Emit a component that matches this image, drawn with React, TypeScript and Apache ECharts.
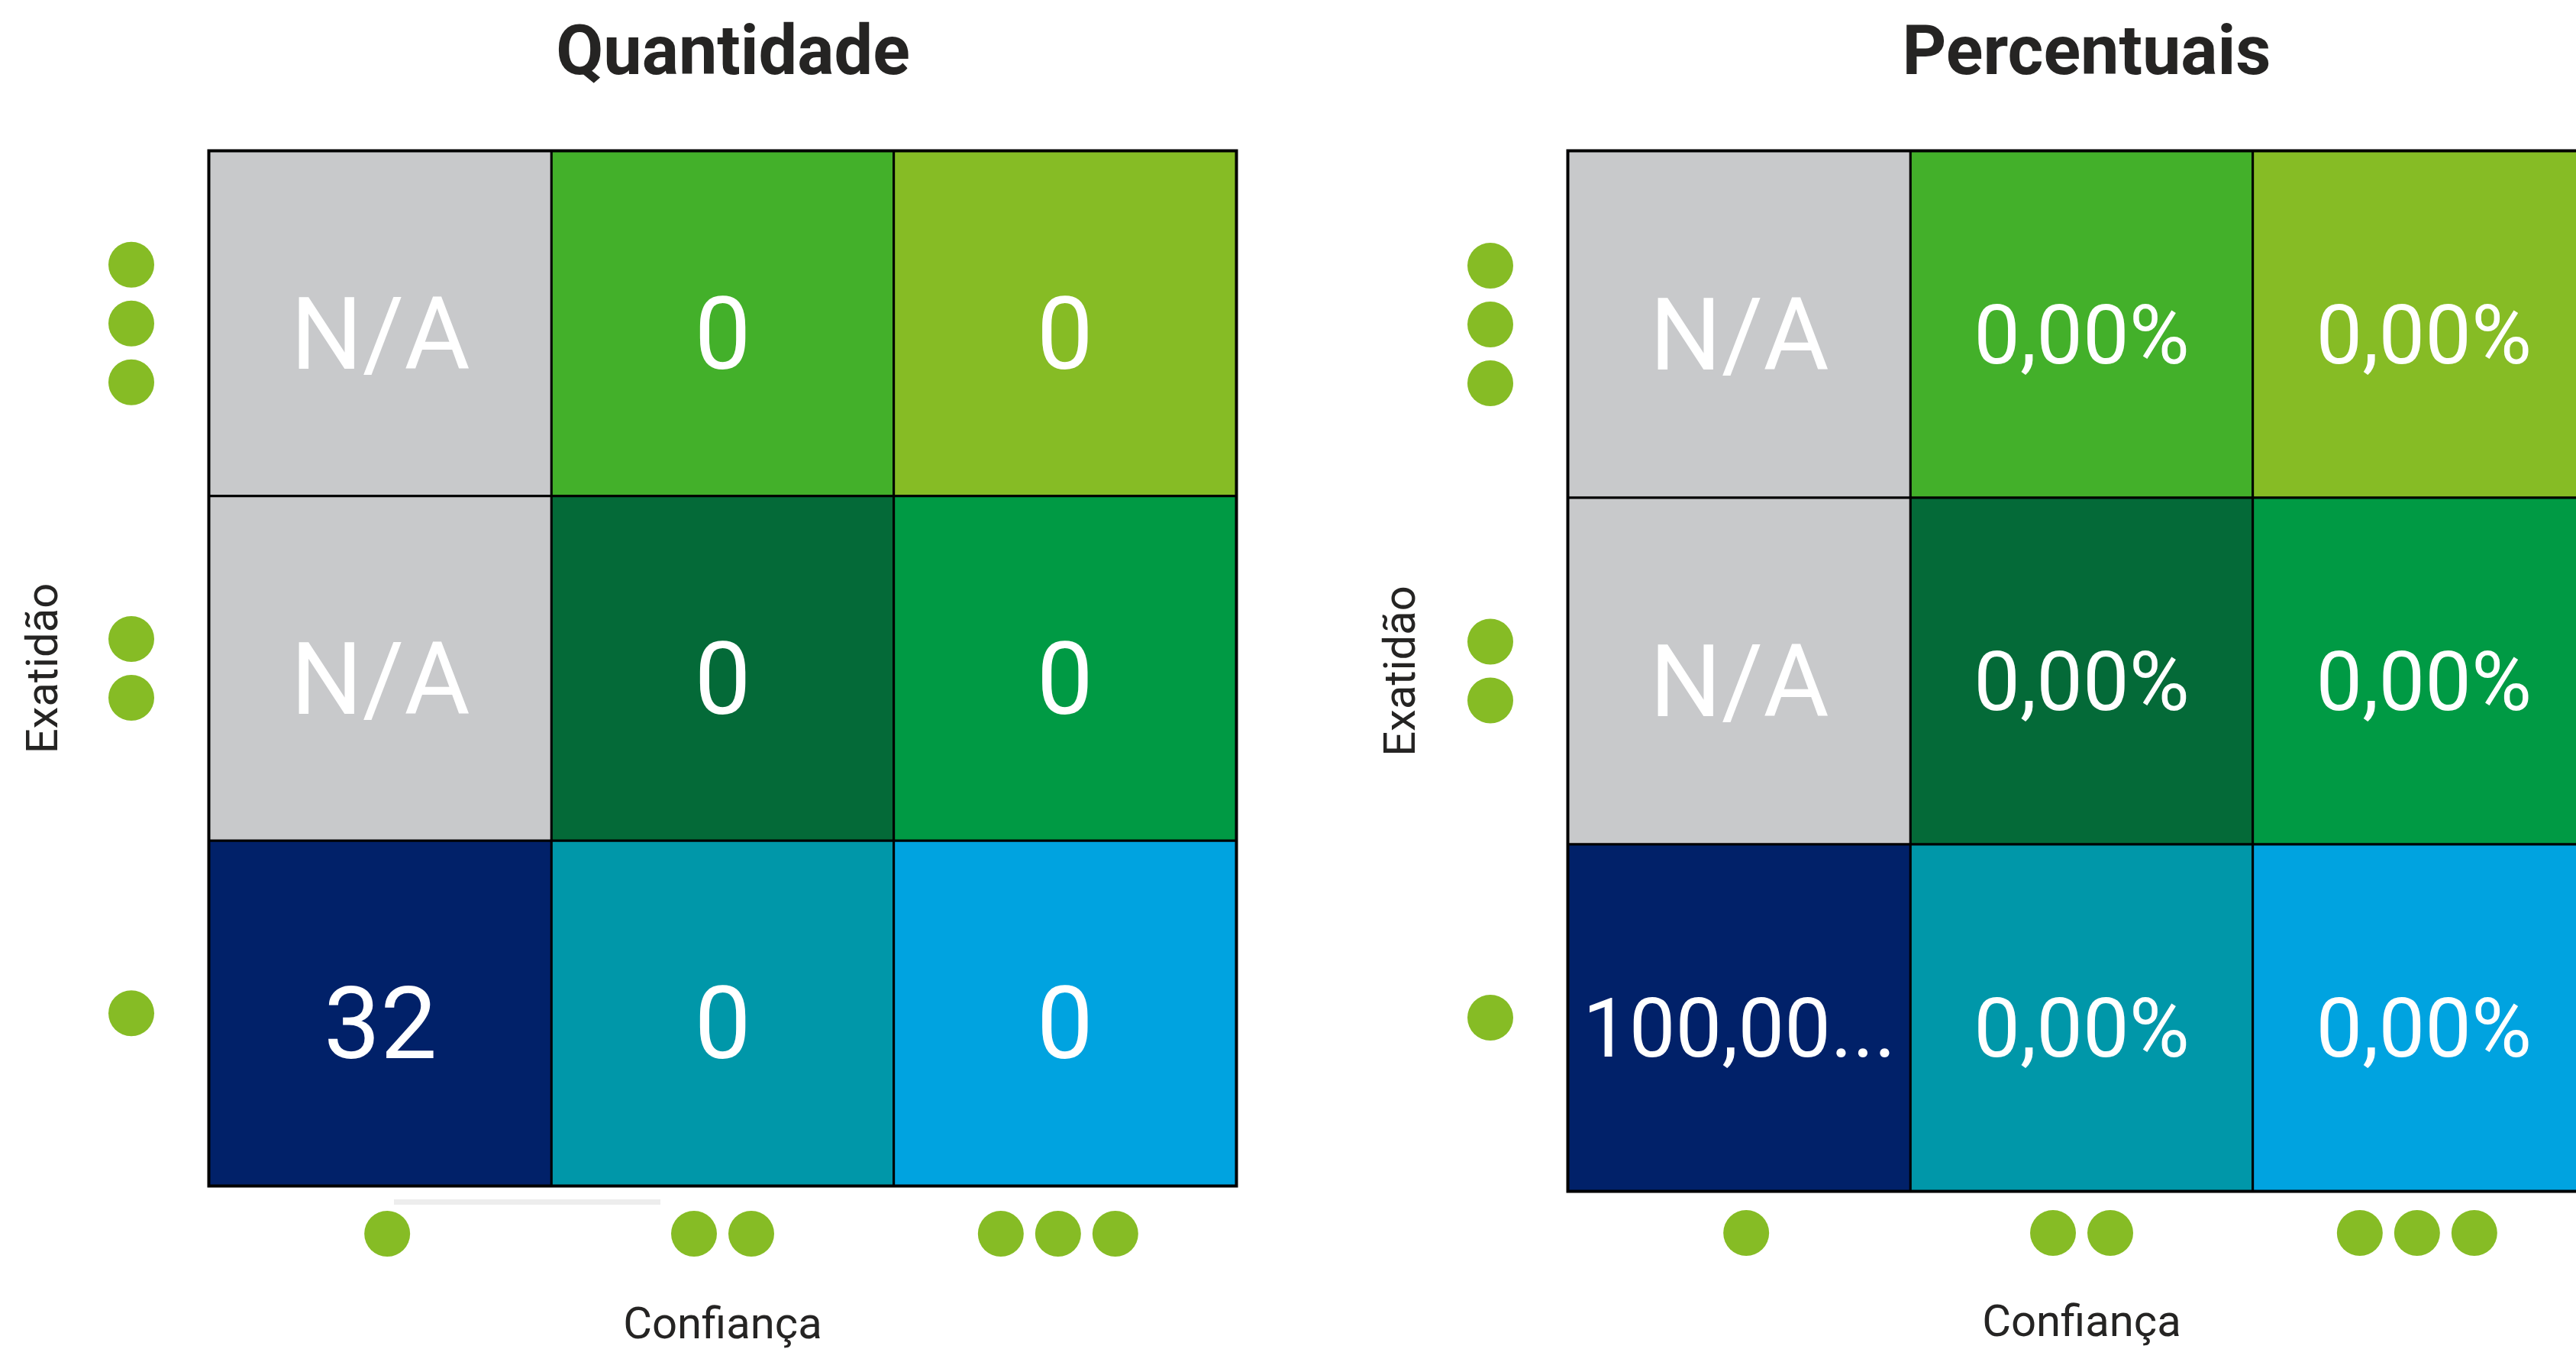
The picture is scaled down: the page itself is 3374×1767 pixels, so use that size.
import React, { useEffect, useRef } from 'react';
import * as echarts from 'echarts';

// Categories: number of dots shown on each axis
const confiancaLevels = ['1', '2', '3']; // x axis, left → right
const exatidaoLevels = ['1', '2', '3']; // y axis, bottom → top

// Rows from Exatidão 3 (top) to Exatidão 1 (bottom); columns Confiança 1..3; null = N/A
const quantidadeRows: (number | null)[][] = [
  [null, 0, 0],
  [null, 0, 0],
  [32, 0, 0],
];
const percentuaisRows: (number | null)[][] = [
  [null, 0, 0],
  [null, 0, 0],
  [100, 0, 0],
];
const cellColorRows: string[][] = [
  ['#C8C9CB', '#43B02A', '#86BC25'],
  ['#C8C9CB', '#046A38', '#009A44'],
  ['#012169', '#0097A9', '#00A3E0'],
];
const chartTitles = ['Quantidade', 'Percentuais'];
const xAxisTitle = 'Confiança';
const yAxisTitle = 'Exatidão';
const naText = 'N/A';

const FONT = 'Roboto, "Noto Sans", sans-serif';
const DOT = '#86BC25';
const TEXT_DARK = '#252423';
const MAX_CHARS = 6;

const fitText = (s: string) => (s.length > MAX_CHARS ? s.slice(0, MAX_CHARS) + '...' : s);
const fmtInt = (v: number) => String(v);
const fmtPct = (v: number) => v.toFixed(2).replace('.', ',') + '%';

type Cell = { x: number; y: number; value: number | null; color: string; text: string; fontSize: number };

function buildCells(rows: (number | null)[][], fmt: (v: number) => string, numSize: number): Cell[] {
  const cells: Cell[] = [];
  rows.forEach((row, r) => {
    row.forEach((v, c) => {
      cells.push({
        x: c,
        y: rows.length - 1 - r,
        value: v,
        color: cellColorRows[r][c],
        text: v == null ? naText : fitText(fmt(v)),
        fontSize: v == null ? 132 : numSize,
      });
    });
  });
  return cells;
}

const quantCells = buildCells(quantidadeRows, fmtInt, 132);
const pctCells = buildCells(percentuaisRows, fmtPct, 108);

const makeRender = (cells: Cell[]) => (params: any, api: any) => {
  const cell = cells[params.dataIndex];
  const c = api.coord([api.value(0), api.value(1)]);
  const s = api.size([1, 1]);
  return {
    type: 'group',
    children: [
      {
        type: 'rect',
        shape: { x: c[0] - s[0] / 2, y: c[1] - s[1] / 2, width: s[0], height: s[1] },
        style: { fill: cell.color, stroke: '#000', lineWidth: 3 },
      },
      {
        type: 'text',
        x: c[0],
        y: c[1] + 14,
        style: {
          text: cell.text,
          fill: '#ffffff',
          fontSize: cell.fontSize,
          fontFamily: FONT,
          align: 'center',
          verticalAlign: 'middle',
        },
      },
    ],
  };
};

// dots are nudged towards the middle of the axis, as in the original visual
const xDots = (v: string, idx: number) => {
  const n = Number(v);
  const parts: string[] = [];
  for (let i = 0; i < n; i++) parts.push('{d|}');
  let s = parts.join('{s|}');
  if (idx === 0) s = '{p|}' + s;
  if (idx === confiancaLevels.length - 1) s = s + '{p|}';
  return s;
};
const yDots = (v: string) => {
  const n = Number(v);
  const parts: string[] = [];
  for (let i = 0; i < n; i++) parts.push('{d|}');
  return parts.join('\n');
};

const gridLefts = [274, 2054];
const titleCenters = [960, 2733];
const xLabelMargins = [33, 25];
const xNameGaps = [151, 141];
const yNameGaps = [190, 192];

export default function App() {
  const ref = useRef<HTMLDivElement>(null);

  useEffect(() => {
    if (!ref.current) return;
    const chart = echarts.init(ref.current, undefined, { renderer: 'svg' });

    const grids = gridLefts.map((left) => ({
      left,
      top: 198,
      width: 1345,
      height: 1362,
      show: true,
      borderColor: '#000',
      borderWidth: 5,
      backgroundColor: 'transparent',
    }));

    const xAxes = gridLefts.map((_, i) => ({
      type: 'category',
      gridIndex: i,
      data: confiancaLevels,
      axisLine: { show: false },
      axisTick: { show: false },
      splitLine: { show: false },
      axisLabel: {
        margin: xLabelMargins[i],
        formatter: xDots,
        rich: {
          d: { width: 60, height: 60, borderRadius: 30, backgroundColor: DOT },
          s: { width: 15, height: 60 },
          p: { width: 18, height: 60 },
        },
      },
      name: xAxisTitle,
      nameLocation: 'middle',
      nameGap: xNameGaps[i],
      nameTextStyle: { fontSize: 58, color: TEXT_DARK, fontFamily: FONT },
    }));

    const yAxes = gridLefts.map((_, i) => ({
      type: 'category',
      gridIndex: i,
      data: exatidaoLevels,
      axisLine: { show: false },
      axisTick: { show: false },
      splitLine: { show: false },
      axisLabel: {
        margin: 72,
        formatter: yDots,
        rich: {
          d: { width: 60, height: 60, lineHeight: 77, borderRadius: 30, backgroundColor: DOT },
        },
      },
      name: yAxisTitle,
      nameLocation: 'middle',
      nameRotate: 90,
      nameGap: yNameGaps[i],
      nameTextStyle: { fontSize: 58, color: TEXT_DARK, fontFamily: FONT },
    }));

    const allCells = [quantCells, pctCells];

    chart.setOption({
      animation: false,
      backgroundColor: '#ffffff',
      title: chartTitles.map((t, i) => ({
        text: t,
        left: titleCenters[i],
        top: 21,
        textAlign: 'center',
        padding: 0,
        textStyle: { fontSize: 90, fontWeight: 'bold', color: TEXT_DARK, fontFamily: FONT },
      })),
      grid: grids,
      xAxis: xAxes,
      yAxis: yAxes,
      series: allCells.map((cells, i) => ({
        type: 'custom',
        xAxisIndex: i,
        yAxisIndex: i,
        encode: { x: 0, y: 1 },
        data: cells.map((c) => [c.x, c.y, c.value == null ? '-' : c.value]),
        renderItem: makeRender(cells),
      })),
      graphic: [
        {
          type: 'rect',
          shape: { x: 516, y: 1571, width: 349, height: 7 },
          style: { fill: '#EDEDED' },
        },
      ],
    });

    return () => chart.dispose();
  }, []);

  return (
    <div style={{ position: 'absolute', left: 0, top: 0, width: 3374, height: 1767, overflow: 'hidden', background: '#fff' }}>
      <div ref={ref} style={{ width: 3440, height: 1767 }} />
    </div>
  );
}
